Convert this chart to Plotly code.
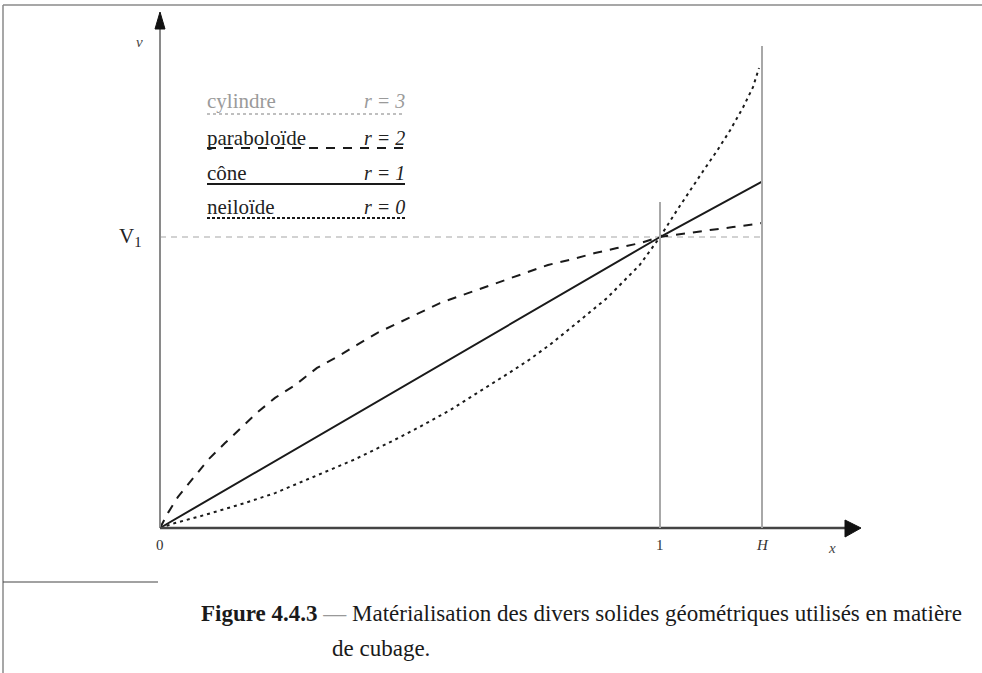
import plotly.graph_objects as go

# ---------------- data (x in units of the reference length, y in units of V1) ----------------
x_paraboloide = [0, 0.016, 0.036, 0.064, 0.096, 0.13, 0.164, 0.196, 0.23, 0.27, 0.314, 0.354,
                 0.394, 0.434, 0.476, 0.52, 0.56, 0.606, 0.65, 0.694, 0.736, 0.776, 0.826,
                 0.87, 0.914, 0.96, 1.0, 1.054, 1.10, 1.146, 1.194, 1.204]
y_paraboloide = [0, 0.052, 0.107, 0.165, 0.234, 0.292, 0.347, 0.399, 0.447, 0.491, 0.55, 0.588,
                 0.629, 0.670, 0.704, 0.739, 0.773, 0.801, 0.828, 0.856, 0.880, 0.904, 0.924,
                 0.945, 0.962, 0.979, 1.0, 1.014, 1.024, 1.034, 1.045, 1.048]

x_cone = [0, 1.0, 1.204]
y_cone = [0, 1.0, 1.19]

x_neiloide = [0, 0.03, 0.09, 0.17, 0.23, 0.29, 0.35, 0.39, 0.466, 0.52, 0.58, 0.646, 0.70,
              0.74, 0.78, 0.826, 0.894, 0.96, 1.0, 1.034, 1.06, 1.086, 1.114, 1.14, 1.166,
              1.186, 1.198]
y_neiloide = [0, 0.017, 0.045, 0.086, 0.120, 0.163, 0.206, 0.236, 0.300, 0.348, 0.405, 0.475,
              0.535, 0.580, 0.630, 0.694, 0.790, 0.905, 1.0, 1.092, 1.160, 1.226, 1.296,
              1.366, 1.445, 1.515, 1.581]

x_cylindre = [0, 1.204]
y_cylindre = [1.0, 1.0]

legend_labels = ["cylindre", "paraboloïde", "cône", "neiloïde"]
legend_r = ["r = 3", "r = 2", "r = 1", "r = 0"]

H = 1.204
x_ticks = [0, 1.0, H]
x_tick_labels = ["0", "1", "<i>H</i>"]

caption_bold = "Figure 4.4.3"
caption_line1 = "Matérialisation des divers solides géométriques utilisés en matière"
caption_line2 = "de cubage."

# ---------------- pixel helpers for decoration ----------------
W, HT = 982, 673
def X(px):
    return (px - 160) / 500.0
def Y(py):
    return (528 - py) / 291.0

SERIF = "Liberation Serif, Times New Roman, serif"

fig = go.Figure()

fig.add_trace(go.Scatter(x=x_cylindre, y=y_cylindre, mode="lines",
                         line=dict(color="#c4c4c4", width=1.5, dash="6px,5px"),
                         hoverinfo="skip", showlegend=False))
fig.add_trace(go.Scatter(x=x_paraboloide, y=y_paraboloide, mode="lines",
                         line=dict(color="#1a1a1a", width=2, dash="9px,8px"),
                         showlegend=False))
fig.add_trace(go.Scatter(x=x_cone, y=y_cone, mode="lines",
                         line=dict(color="#1a1a1a", width=2),
                         showlegend=False))
fig.add_trace(go.Scatter(x=x_neiloide, y=y_neiloide, mode="lines",
                         line=dict(color="#1a1a1a", width=2, dash="3px,4px"),
                         showlegend=False))

shapes = []
# frame
shapes.append(dict(type="line", xref="x", yref="y", x0=X(3), x1=X(982), y0=Y(5), y1=Y(5),
                   line=dict(color="#8a8a8a", width=1.5)))
shapes.append(dict(type="line", xref="x", yref="y", x0=X(3), x1=X(3), y0=Y(5), y1=Y(673),
                   line=dict(color="#8a8a8a", width=1.5)))
shapes.append(dict(type="line", xref="x", yref="y", x0=X(3), x1=X(158), y0=Y(582), y1=Y(582),
                   line=dict(color="#444444", width=1.2)))
# axes
shapes.append(dict(type="line", xref="x", yref="y", x0=0, x1=0, y0=0, y1=Y(26),
                   line=dict(color="#8a8a8a", width=2)))
shapes.append(dict(type="path", xref="x", yref="y",
                   path=f"M {X(155)},{Y(29)} L {X(160)},{Y(12)} L {X(165)},{Y(29)} Z",
                   fillcolor="#111111", line=dict(color="#111111", width=1)))
shapes.append(dict(type="line", xref="x", yref="y", x0=0, x1=X(848), y0=0, y1=0,
                   line=dict(color="#444444", width=2.5)))
shapes.append(dict(type="path", xref="x", yref="y",
                   path=f"M {X(845)},{Y(520)} L {X(861)},{Y(528)} L {X(845)},{Y(537)} Z",
                   fillcolor="#111111", line=dict(color="#111111", width=1)))
# verticals at 1 and H
shapes.append(dict(type="line", xref="x", yref="y", x0=1.0, x1=1.0, y0=0, y1=Y(202),
                   line=dict(color="#a8a8a8", width=2)))
shapes.append(dict(type="line", xref="x", yref="y", x0=H, x1=H, y0=0, y1=Y(46),
                   line=dict(color="#a8a8a8", width=2)))

# legend lines
leg_text_y = [101, 138, 173, 207]
leg_line_y = [114, 148, 184, 218]
leg_styles = [dict(color="#aaaaaa", width=1.5, dash="3px,3px"),
              dict(color="#1a1a1a", width=2, dash="9px,8px"),
              dict(color="#1a1a1a", width=2),
              dict(color="#1a1a1a", width=2, dash="3px,2px")]
leg_colors = ["#9a9a9a", "#222222", "#222222", "#222222"]
for ly, st in zip(leg_line_y, leg_styles):
    shapes.append(dict(type="line", xref="x", yref="y", x0=X(207), x1=X(405), y0=Y(ly), y1=Y(ly),
                       line=st))

annotations = []
for lab, r, ty, c in zip(legend_labels, legend_r, leg_text_y, leg_colors):
    annotations.append(dict(x=X(205), y=Y(ty), text=lab, showarrow=False, xanchor="left",
                            yanchor="middle", font=dict(family=SERIF, size=21, color=c)))
    annotations.append(dict(x=X(407), y=Y(ty), text=f"<i>{r}</i>", showarrow=False, xanchor="right",
                            yanchor="middle", font=dict(family=SERIF, size=20, color=c)))

# tick labels
for xv, tl in zip(x_ticks, x_tick_labels):
    annotations.append(dict(x=xv, y=Y(545), text=tl, showarrow=False, xanchor="center",
                            yanchor="middle", font=dict(family=SERIF, size=15, color="#333333")))
annotations.append(dict(x=X(832), y=Y(548), text="<i>x</i>", showarrow=False,
                        font=dict(family=SERIF, size=15, color="#444444")))
annotations.append(dict(x=X(139), y=Y(42), text="<i>v</i>", showarrow=False,
                        font=dict(family=SERIF, size=15, color="#444444")))
annotations.append(dict(x=X(144), y=1.0, text="V<sub>1</sub>", showarrow=False, xanchor="right",
                        yanchor="middle", font=dict(family=SERIF, size=21, color="#222222")))

# caption
annotations.append(dict(x=X(199), y=Y(613), xanchor="left", yanchor="middle", showarrow=False,
                        text=f"<b>{caption_bold}</b> <span style='color:#999'>—</span> {caption_line1}",
                        font=dict(family=SERIF, size=23, color="#1a1a1a")))
annotations.append(dict(x=X(330), y=Y(648), xanchor="left", yanchor="middle", showarrow=False,
                        text=caption_line2,
                        font=dict(family=SERIF, size=23, color="#1a1a1a")))

fig.update_layout(
    width=W, height=HT,
    margin=dict(l=0, r=0, t=0, b=0),
    paper_bgcolor="white", plot_bgcolor="white",
    xaxis=dict(range=[X(0), X(W)], visible=False, fixedrange=True),
    yaxis=dict(range=[Y(HT), Y(0)], visible=False, fixedrange=True),
    shapes=shapes, annotations=annotations,
    showlegend=False,
)

fig.write_html("out.html", config={"displayModeBar": False},
               post_script="document.body.style.margin='0';")
